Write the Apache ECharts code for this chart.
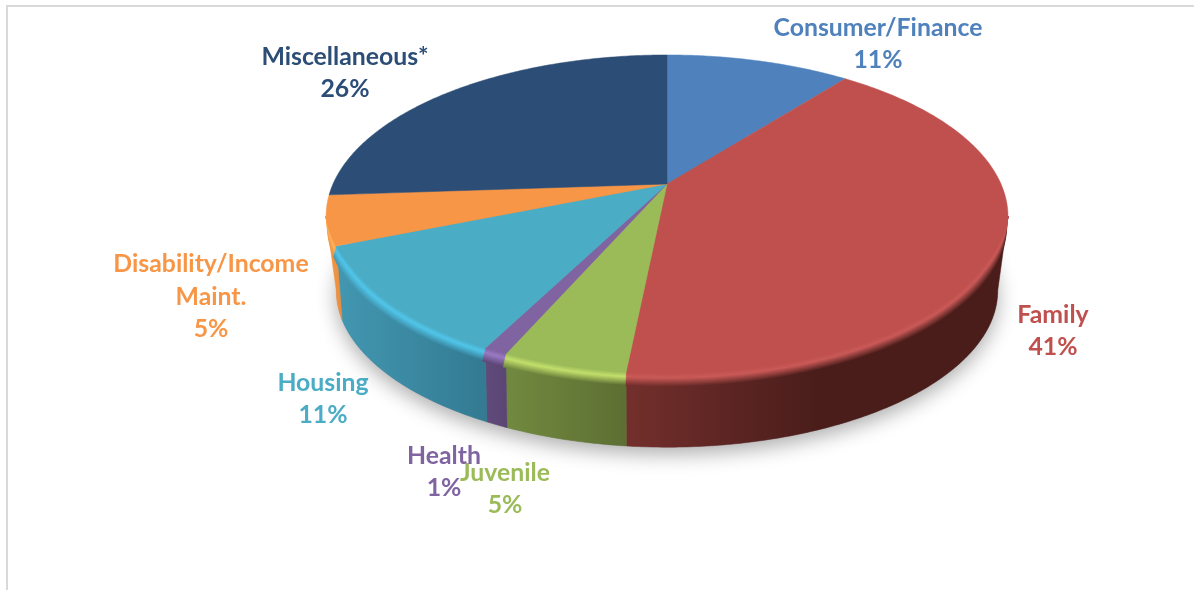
<!DOCTYPE html>
<html>
<head>
<meta charset="utf-8">
<title>Cases by type</title>
<style>
  html, body { margin: 0; padding: 0; background: #fff; }
  #chart { width: 1194px; height: 590px; }
</style>
<script src="https://cdn.jsdelivr.net/npm/echarts@6/dist/echarts.min.js"></script>
</head>
<body>
<div id="chart"></div>
<script>
// slice sizes are estimates that still round to the printed labels
const categories = ['Consumer/Finance', 'Family', 'Juvenile', 'Health', 'Housing', 'Disability/Income\nMaint.', 'Miscellaneous*']
const values = [10.6, 41, 5, 0.95, 11.35, 5, 26.1]

const topColors = ['#4f81bd', '#c0504d', '#9bbb59', '#8064a2', '#4bacc6', '#f79646', '#2c4d75']
const rimColors = ['#5c95da', '#c95957', '#c3e06c', '#9a7ac4', '#50c6ea', '#ffb25c', '#34598a']
const wallLeft = ['#3c6391', '#732f2c', '#71893f', '#5f4a7a', '#4296b0', '#f09340', '#213a58']
const wallRight = ['#33547b', '#4a1d1b', '#5d6f33', '#5a4573', '#337a92', '#e88c3c', '#1d3550']
const labelCenters = [[878, 44], [1053, 331], [505, 489], [444, 472], [323, 399], [211, 297], [345, 73]]

// perspective disc: the hub sits above the middle of the ellipse
const hubX = 667
const hubY = 184
const spanX = 334
const spanY = 155
const tilt = 0.201
const depth = 75
const shrink = 0.03
const rimDepth = 0.13
const rimInset = 0.022

const total = values.reduce((a, b) => a + b, 0)
// the wall is only seen between the two left/right extremes of the ellipse
const wallFrom = Math.acos(-tilt)
const wallTo = Math.PI * 2 - wallFrom

function insetAt (angle) {
  const facing = (-Math.cos(angle) - tilt) / 0.3
  return rimInset * Math.max(0, Math.min(1, facing))
}

// f runs over the rolled rim: 0 is where the top face stops, 1 is where the flat wall starts
function project (angle, t, f) {
  const sx = Math.sin(angle)
  const sy = -Math.cos(angle)
  const w = 1 - tilt * sy
  const r = 1 - insetAt(angle) * (1 - f)
  const s = (1 - shrink * t) * r
  return [hubX + s * spanX * sx / w, hubY + depth * t + s * spanY * sy / w]
}

function arc (from, to, t, f) {
  const steps = Math.max(2, Math.ceil((to - from) / 0.01))
  const pts = []
  for (let i = 0; i <= steps; i++) {
    pts.push(project(from + (to - from) * i / steps, t, f))
  }
  return pts
}

function mix (a, b, k) {
  const pa = parseInt(a.slice(1), 16)
  const pb = parseInt(b.slice(1), 16)
  const part = shift => Math.round(((pa >> shift) & 255) * (1 - k) + ((pb >> shift) & 255) * k)
  return 'rgb(' + part(16) + ',' + part(8) + ',' + part(0) + ')'
}

function sliceAngles (index) {
  let before = 0
  for (let i = 0; i < index; i++) before += values[i]
  const from = before / total * Math.PI * 2
  return [from, from + values[index] / total * Math.PI * 2]
}

function band (from, to, t, f, fill, z2) {
  const points = arc(from, to, 0, 0).concat(arc(from, to, t, f).reverse())
  return {
    type: 'polygon',
    z2: z2,
    shape: { points: points },
    style: { fill: fill, stroke: fill, lineWidth: 0.5 }
  }
}

function wallBands (i, from, to) {
  const xs = arc(from, to, 1, 1).map(p => p[0])
  const x0 = Math.min.apply(null, xs)
  const x1 = Math.min(Math.max(Math.max.apply(null, xs), x0 + 1), x0 + 190)
  const strips = 9
  const bands = []
  const wall = new echarts.graphic.LinearGradient(x0, 0, x1, 0, [
    { offset: 0, color: wallLeft[i] },
    { offset: 1, color: wallRight[i] }
  ], true)
  bands.push(band(from, to, 1, 1, wall, 2))
  // rolled rim: nested strips, thickest one first, so no seams show
  for (let s = strips; s >= 1; s--) {
    const f = s / strips
    const tint = end => {
      if (f < 0.35) return mix(topColors[i], rimColors[i], f / 0.35)
      return mix(rimColors[i], end, (f - 0.35) / 0.65)
    }
    const fill = new echarts.graphic.LinearGradient(x0, 0, x1, 0, [
      { offset: 0, color: tint(wallLeft[i]) },
      { offset: 1, color: tint(wallRight[i]) }
    ], true)
    bands.push(band(from, to, rimDepth * f, f, fill, 3 + strips - s))
  }
  return bands
}

function renderSlice (params, api) {
  const i = params.dataIndex
  const value = api.value(0)
  const [from, to] = sliceAngles(i)
  let children = []

  const wallStart = Math.max(from, wallFrom)
  const wallEnd = Math.min(to, wallTo)
  if (wallStart < wallEnd) children = wallBands(i, wallStart, wallEnd)

  // top face
  children.push({
    type: 'polygon',
    z2: 20,
    shape: { points: [[hubX, hubY]].concat(arc(from, to, 0, 0)) },
    style: { fill: topColors[i], stroke: topColors[i], lineWidth: 0.5 }
  })

  // label
  const percent = Math.round(value / total * 100)
  children.push({
    type: 'text',
    z2: 30,
    x: labelCenters[i][0],
    y: labelCenters[i][1],
    style: {
      text: categories[i] + '\n' + percent + '%',
      fill: topColors[i],
      font: 'bold 24.8px Lato',
      lineHeight: 32.5,
      align: 'center',
      verticalAlign: 'middle'
    }
  })
  return { type: 'group', children: children }
}

function renderShadow (params, api) {
  return {
    type: 'polygon',
    z2: 0,
    shape: { points: arc(0, Math.PI * 2, 1, 1) },
    style: {
      fill: '#999',
      shadowColor: 'rgba(0,0,0,0.32)',
      shadowBlur: 20,
      shadowOffsetY: 7
    }
  }
}

const chart = echarts.init(document.getElementById('chart'), null, { renderer: 'canvas' })
chart.setOption({
  animation: false,
  backgroundColor: '#fff',
  graphic: [
    { type: 'rect', shape: { x: 6, y: 5, width: 1188, height: 2 }, style: { fill: '#d9d9d9' } },
    { type: 'rect', shape: { x: 6, y: 5, width: 2, height: 585 }, style: { fill: '#d9d9d9' } }
  ],
  series: [
    { type: 'custom', coordinateSystem: 'none', silent: true, z: 1, renderItem: renderShadow, data: [[total]] },
    { type: 'custom', coordinateSystem: 'none', silent: true, z: 2, renderItem: renderSlice, data: values.map(v => [v]) }
  ]
})
</script>
</body>
</html>
